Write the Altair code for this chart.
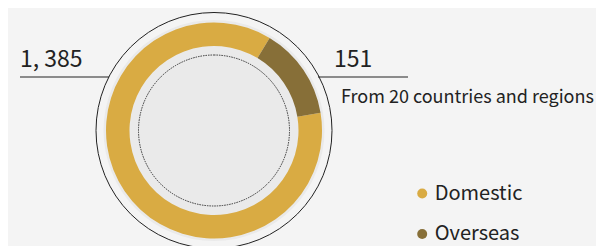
import math
import altair as alt
import pandas as pd

# ---- data ----
categories = ["Domestic", "Overseas"]
counts = [1385, 151]
arc_share_deg = [310.4, 49.6]      # slice sizes as drawn in the picture
slice_order = [1, 0]
colors = ["#d9ab43", "#876f38"]
subtitle = ["From 20 countries and regions"]

df = pd.DataFrame({"category": categories, "count": counts,
                   "share": arc_share_deg, "order": slice_order})
one = pd.DataFrame({"k": [0]})
sub_df = pd.DataFrame({"t": subtitle})

W, H = 588, 238
CX, CY = 206, 122.5
FONT = "Noto Sans CJK SC"
INK = "#222222"
TAU = 2 * math.pi
START = math.radians(31)

outer_ring = alt.Chart(one).mark_arc(
    theta=0, theta2=TAU, radius=118, radius2=0,
    fill="transparent", stroke=INK, strokeWidth=1
).encode(x=alt.value(CX), y=alt.value(CY))

halo = alt.Chart(one).mark_arc(
    theta=0, theta2=TAU, radius=110.5, radius2=0, fill="#eaeaea"
).encode(x=alt.value(CX), y=alt.value(CY))

donut = alt.Chart(df).mark_arc(radius=108, radius2=84.5).encode(
    theta=alt.Theta("share:Q", stack=True,
                    scale=alt.Scale(range=[START, START + TAU])),
    order=alt.Order("order:Q"),
    color=alt.Color("category:N",
                    scale=alt.Scale(domain=categories, range=colors),
                    legend=alt.Legend(title=None)),
    x=alt.value(CX), y=alt.value(CY),
)

dotted = alt.Chart(one).mark_arc(
    theta=0, theta2=TAU, radius=75.5, radius2=0,
    fill="transparent", stroke="#333333", strokeWidth=1, strokeDash=[1.5, 1]
).encode(x=alt.value(CX), y=alt.value(CY))

left_rule = alt.Chart(one).mark_rule(color=INK, strokeWidth=1).encode(
    x=alt.value(12), x2=alt.value(101), y=alt.value(69))
right_rule = alt.Chart(one).mark_rule(color=INK, strokeWidth=1).encode(
    x=alt.value(310), x2=alt.value(400), y=alt.value(69))

label_expr = "replace(format(datum.count, ','), ',', ', ')"

left_label = alt.Chart(df).transform_filter(
    alt.datum.category == "Domestic"
).transform_calculate(label=label_expr).mark_text(
    font=FONT, fontSize=23, color=INK, align="left", baseline="alphabetic"
).encode(text="label:N", x=alt.value(12), y=alt.value(59))

right_label = alt.Chart(df).transform_filter(
    alt.datum.category == "Overseas"
).transform_calculate(label=label_expr).mark_text(
    font=FONT, fontSize=23, color=INK, align="left", baseline="alphabetic"
).encode(text="label:N", x=alt.value(326), y=alt.value(59))

sub_label = alt.Chart(sub_df).mark_text(
    font=FONT, fontSize=18, color=INK, align="left", baseline="alphabetic"
).encode(text="t:N", x=alt.value(333), y=alt.value(95))

chart = alt.layer(
    outer_ring, halo, donut, dotted, left_rule, right_rule,
    left_label, right_label, sub_label
).properties(
    width=W, height=H, padding=0, autosize=alt.AutoSizeParams(type="none"),
    background="#f4f4f4"
).configure_view(stroke=None).configure_legend(
    orient="none", legendX=404.2, legendY=175.5,
    symbolType="circle", symbolSize=100, symbolStrokeWidth=0,
    labelFont=FONT, labelFontSize=20, labelColor=INK,
    labelOffset=2.5, rowPadding=20.5, padding=0
)

chart.save("out.html", embed_options={"renderer": "svg", "actions": False})
